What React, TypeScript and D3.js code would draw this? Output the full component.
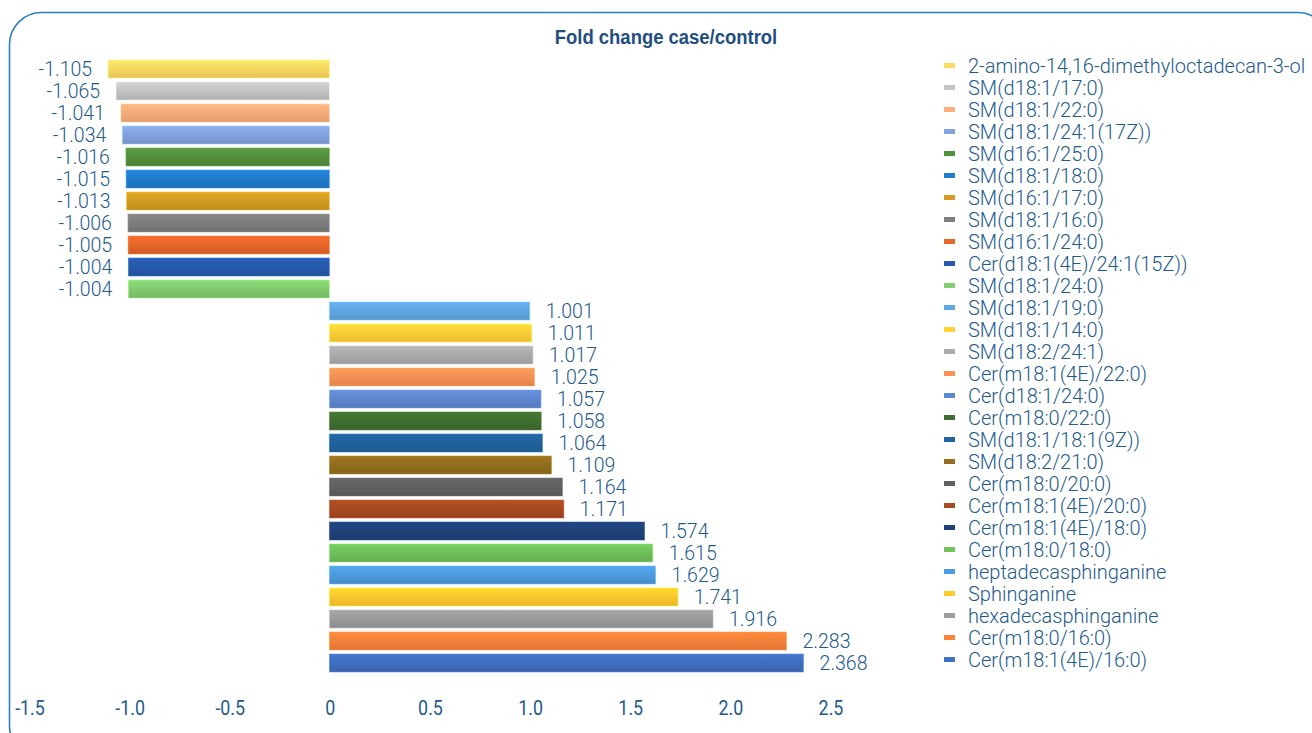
import React from 'react';
import * as d3 from 'd3';

const names = [
  '2-amino-14,16-dimethyloctadecan-3-ol',
  'SM(d18:1/17:0)',
  'SM(d18:1/22:0)',
  'SM(d18:1/24:1(17Z))',
  'SM(d16:1/25:0)',
  'SM(d18:1/18:0)',
  'SM(d16:1/17:0)',
  'SM(d18:1/16:0)',
  'SM(d16:1/24:0)',
  'Cer(d18:1(4E)/24:1(15Z))',
  'SM(d18:1/24:0)',
  'SM(d18:1/19:0)',
  'SM(d18:1/14:0)',
  'SM(d18:2/24:1)',
  'Cer(m18:1(4E)/22:0)',
  'Cer(d18:1/24:0)',
  'Cer(m18:0/22:0)',
  'SM(d18:1/18:1(9Z))',
  'SM(d18:2/21:0)',
  'Cer(m18:0/20:0)',
  'Cer(m18:1(4E)/20:0)',
  'Cer(m18:1(4E)/18:0)',
  'Cer(m18:0/18:0)',
  'heptadecasphinganine',
  'Sphinganine',
  'hexadecasphinganine',
  'Cer(m18:0/16:0)',
  'Cer(m18:1(4E)/16:0)'
];

const foldChange = [
  -1.105, -1.065, -1.041, -1.034, -1.016, -1.015, -1.013, -1.006, -1.005, -1.004, -1.004,
  1.001, 1.011, 1.017, 1.025, 1.057, 1.058, 1.064, 1.109, 1.164, 1.171,
  1.574, 1.615, 1.629, 1.741, 1.916, 2.283, 2.368
];

const barColors = [
  '#f5cf5c', '#bababa', '#f3a476', '#7c9bd5', '#4f8a3a', '#1f76c2', '#c8951f',
  '#787878', '#dd6128', '#2456a4', '#7bc36a', '#5b9fd9', '#fbc535', '#a3a3a3',
  '#f08a50', '#5a81c7', '#3d6a2e', '#1f5e97', '#8d691c', '#5a5c5e', '#9f461f',
  '#1d3f75', '#6ab857', '#4a94d4', '#fbc02a', '#949494', '#f07b36', '#3d6ab6'
];

const xTicks = [-1.5, -1.0, -0.5, 0, 0.5, 1.0, 1.5, 2.0, 2.5];

const title = 'Fold change case/control';

const W = 1312;
const H = 733;
const textColor = '#235a8c';
const font = "'Liberation Sans', Arial, sans-serif";
const lightFont = "Roboto, 'Liberation Sans', sans-serif";

// hyphen instead of the unicode minus d3 puts in
const fmt3 = (v: number) => d3.format('.3f')(v).replace('\u2212', '-');
const fmt1 = (v: number) => (v === 0 ? '0' : d3.format('.1f')(v).replace('\u2212', '-'));

export default function App() {
  const x = d3.scaleLinear().domain([-1.5, 2.5]).range([29, 830]);
  const y = d3.scaleBand().domain(names).range([58, 674]).paddingInner(0.18).paddingOuter(0.09);
  const legendY = d3.scaleBand().domain(names).range([55, 671]);

  return (
    <div style={{ position: 'absolute', left: 0, top: 0 }}>
      <svg width={W} height={H} style={{ display: 'block' }}>
        <defs>
          {barColors.map((c, i) => {
            const col = d3.color(c)!;
            return (
              <linearGradient key={i} id={`g${i}`} x1="0" y1="0" x2="0" y2="1">
                <stop offset="0%" stopColor={col.brighter(0.35).formatHex()} />
                <stop offset="100%" stopColor={col.darker(0.15).formatHex()} />
              </linearGradient>
            );
          })}
        </defs>
        <rect x={9.5} y={12.5} width={1320} height={745} rx={32} ry={32}
          fill="none" stroke="#2a7fc6" strokeWidth={1.6} />
        <text transform="translate(666,44) scale(0.9,1)" textAnchor="middle" fill="#1f4e7f"
          fontFamily={font} fontWeight="bold" fontSize={20.5}>{title}</text>

        {names.map((n, i) => {
          const v = foldChange[i];
          const x0 = x(Math.min(0, v));
          const x1 = x(Math.max(0, v));
          const yy = y(n)!;
          const bh = y.bandwidth();
          const col = d3.color(barColors[i])!;
          return (
            <g key={n}>
              <rect x={x0} y={yy} width={x1 - x0} height={bh} fill={`url(#g${i})`}
                stroke={col.brighter(0.8).formatHex()} strokeOpacity={0.6} strokeWidth={0.8} />
              <text x={v < 0 ? x0 - 16 : x1 + 16} y={yy + bh / 2} dy="0.36em"
                textAnchor={v < 0 ? 'end' : 'start'} fill={textColor}
                fontFamily={lightFont} fontWeight={300} fontSize={19.5}>
                {fmt3(v)}
              </text>
            </g>
          );
        })}

        {xTicks.map((t) => (
          <text key={t} transform={`translate(${x(t) + 1},707) scale(0.85,1)`} dy="0.36em"
            textAnchor="middle" fill={textColor} fontFamily={lightFont} fontSize={21}>
            {fmt1(t)}
          </text>
        ))}

        {names.map((n, i) => {
          const yy = legendY(n)! + legendY.bandwidth() / 2;
          const col = d3.color(barColors[i])!;
          return (
            <g key={'l' + n}>
              <rect x={944} y={yy - 3} width={11} height={5} fill={col.brighter(0.15).formatHex()} />
              <text x={968} y={yy} dy="0.36em" fill={textColor}
                fontFamily={lightFont} fontWeight={300} fontSize={20}>
                {n}
              </text>
            </g>
          );
        })}
      </svg>
    </div>
  );
}
